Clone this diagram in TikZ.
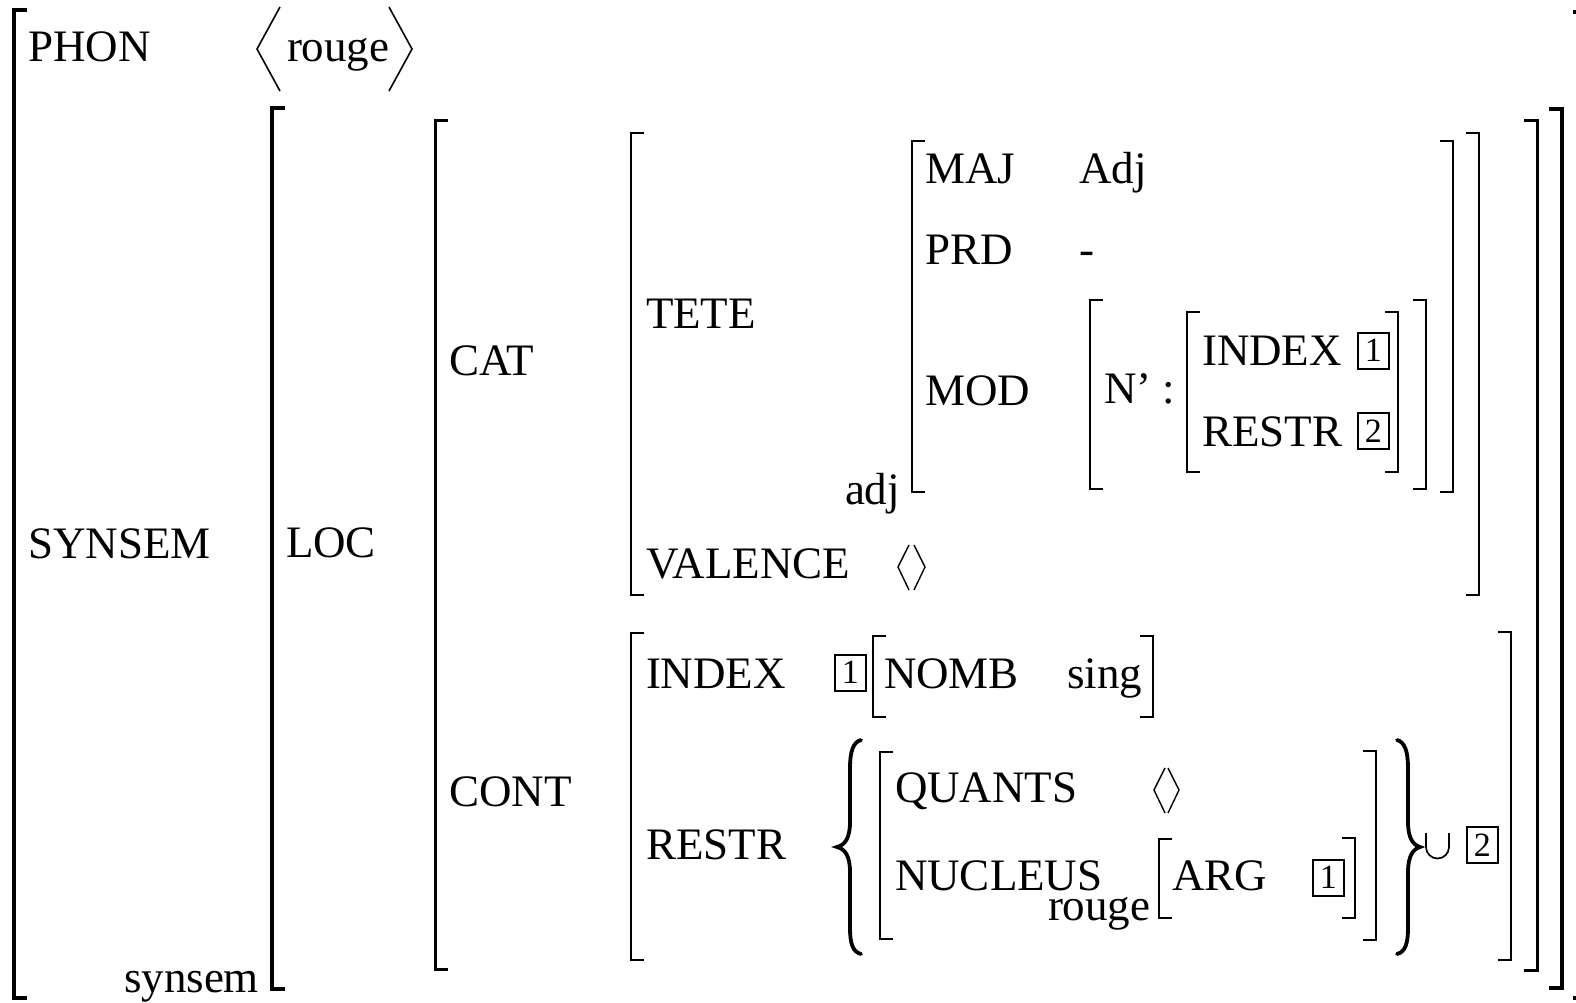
\documentclass[tikz,border=0pt]{standalone}
\usepackage{fontspec}
\setmainfont{Liberation Serif}
\newcommand\avmL[4][2.4]{\draw[line width=#1pt] (#2+13,#3) -- (#2,#3) -- (#2,#4) -- (#2+13,#4);}
\newcommand\avmR[4][2.4]{\draw[line width=#1pt] (#2-13,#3) -- (#2,#3) -- (#2,#4) -- (#2-13,#4);}
\begin{document}
\begin{tikzpicture}[x=1pt,y=-1pt,line join=miter,line cap=butt,
  lbl/.style={anchor=base west,inner sep=0pt,outer sep=0pt,font=\fontsize{45}{54}\selectfont},
  tagbox/.style={draw,line width=1.5pt,inner sep=0pt,minimum width=31pt,minimum height=36pt,anchor=north west,font=\fontsize{34}{34}\selectfont},
  angl/.style={line width=1.6pt,line join=miter},
  bracestyle/.style={line width=3.8pt,line cap=round}]
\useasboundingbox (0,0) rectangle (1576,1003);
\fill[white] (0,0) rectangle (1576,1003);
% brackets
\avmL[3.4]{14}{10}{998}
\avmR[3.4]{1586}{12}{998}
\avmL[3.2]{272}{108}{989}
\avmR[3.2]{1562}{109}{988}
\avmL[3]{435}{121}{969}
\avmR[3]{1537}{121}{970}
\avmL[2.9]{631}{133}{595}
\avmR[2.9]{1479}{133}{595}
\avmL[2.8]{912}{141}{492}
\avmR[2.8]{1453}{141}{492}
\avmL[2.6]{1090}{300}{489}
\avmR[2.6]{1426}{300}{489}
\avmL[2.4]{1187}{312}{472}
\avmR[2.4]{1398}{312}{472}
\avmL[2.9]{631}{633}{960}
\avmR[2.9]{1511}{632}{960}
\avmL[2.2]{873}{636}{717}
\avmR[2.2]{1153}{636}{717}
\avmL[2.6]{880}{752}{939}
\avmR[2.6]{1376}{751}{940}
\avmL[2.2]{1159}{839}{918}
\avmR[2.2]{1355}{838}{918}
% angle brackets
\draw[angl] (280,7) -- (257,49) -- (280,91);
\draw[angl] (389,7) -- (412,49) -- (389,91);
\draw[angl,line width=1.4pt] (909,545) -- (898,567) -- (909,590);
\draw[angl,line width=1.4pt] (914,545) -- (925,567) -- (914,590);
\draw[angl,line width=1.4pt] (1165,768) -- (1154,790) -- (1165,813);
\draw[angl,line width=1.4pt] (1168,768) -- (1179,790) -- (1168,813);
% braces
\draw[bracestyle] (861,740) .. controls (853,742) and (850,752) .. (850,768) -- (850,822) .. controls (850,838) and (845,845) .. (837,847) .. controls (845,849) and (850,856) .. (850,872) -- (850,928) .. controls (850,944) and (853,952) .. (861,954);
\draw[bracestyle] (1397,740) .. controls (1405,742) and (1408,752) .. (1408,768) -- (1408,822) .. controls (1408,838) and (1413,845) .. (1420,847) .. controls (1413,849) and (1408,856) .. (1408,872) -- (1408,928) .. controls (1408,944) and (1405,952) .. (1397,954);
% union
\draw[line width=1.7pt] (1426,833) -- (1426,847) arc[start angle=180,end angle=0,radius=11.5] -- (1449,833);
% labels
\node[lbl] (phon) at (28,62) {PHON};
\node[lbl] (rouge1) at (287,62) {rouge};
\node[lbl] (synsemA) at (28,558) {SYNSEM};
\node[lbl] (synsemT) at (124,992) {synsem};
\node[lbl] (loc) at (286,557) {LOC};
\node[lbl] (cat) at (449,375) {CAT};
\node[lbl] (cont) at (449,806) {CONT};
\node[lbl] (tete) at (646,328) {TETE};
\node[lbl] (val) at (646,578) {VALENCE};
\node[lbl] (adj) at (845,504) {adj};
\node[lbl] (maj) at (925,184) {MAJ};
\node[lbl] (majv) at (1079,184) {Adj};
\node[lbl] (prd) at (925,264) {PRD};
\node[lbl] (prdv) at (1079,264) {-};
\node[lbl] (mod) at (925,405) {MOD};
\node[lbl] (nbar) at (1104,403) {N’ :};
\node[lbl] (idx1) at (1202,365) {INDEX};
\node[tagbox] (t1a) at (1357,332) {1};
\node[lbl] (res1) at (1202,446) {RESTR};
\node[tagbox] (t2a) at (1357,412) {2};
\node[lbl] (idx2) at (646,688) {INDEX};
\node[tagbox] (t1b) at (834,654) {1};
\node[lbl] (nomb) at (884,688) {NOMB};
\node[lbl] (sing) at (1067,688) {sing};
\node[lbl] (res2) at (646,859) {RESTR};
\node[lbl] (quants) at (895,802) {QUANTS};
\node[lbl] (nucl) at (895,890) {NUCLEUS};
\node[lbl] (rouge2) at (1048,920) {rouge};
\node[lbl] (arg) at (1172,890) {ARG};
\node[tagbox] (t1c) at (1312,859) {1};
\node[tagbox] (t2b) at (1466,826) {2};
\end{tikzpicture}
\end{document}
